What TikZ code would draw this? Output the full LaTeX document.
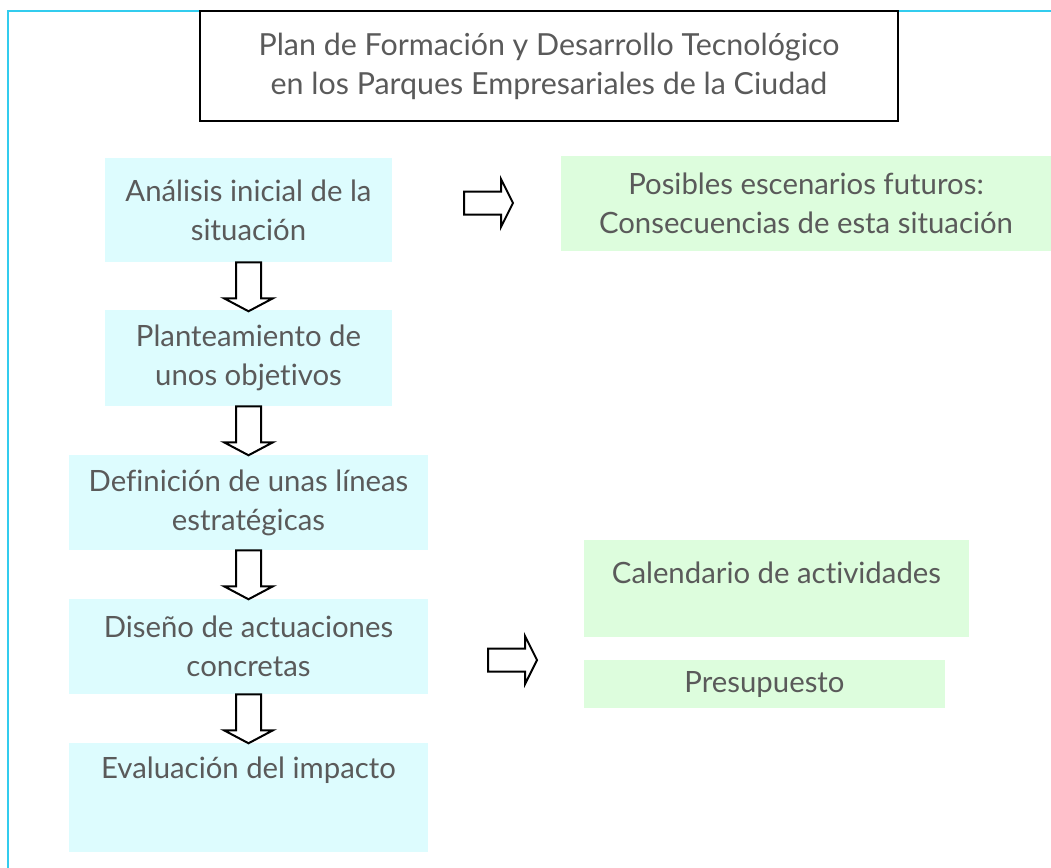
\documentclass[tikz,border=0pt]{standalone}
\usepackage{fontspec}
\setmainfont{Lato}[Ligatures=NoCommon]
\definecolor{txt}{HTML}{5A5A5A}
\definecolor{bluefill}{HTML}{DDFCFE}
\definecolor{greenfill}{HTML}{DDFDDD}
\definecolor{framecol}{HTML}{33CCEE}
\begin{document}
\begin{tikzpicture}[x=0.75pt,y=-0.75pt,
  lbl/.style={text=txt, align=center, inner sep=0pt, font=\fontsize{22}{29.25}\selectfont},
  titlebox/.style={lbl, draw=black, line width=1.5pt, font=\fontsize{22.8}{29.25}\selectfont},
  bluebox/.style={lbl, fill=bluefill, draw=none},
  greenbox/.style={lbl, fill=greenfill, draw=none},
  blockarrow/.style={draw=black, line width=1.5pt, fill=white, line join=miter},
  downarr/.pic={\draw[blockarrow] (-12.5,0) -- (12.5,0) -- (12.5,36) -- (24.5,36) -- (0,49) -- (-24.5,36) -- (-12.5,36) -- cycle;},
  rightarr/.pic={\draw[blockarrow] (0,-11.5) -- (37,-11.5) -- (37,-24) -- (49,0) -- (37,24) -- (37,11.5) -- (0,11.5) -- cycle;}
]
\useasboundingbox (0,0) rectangle (1051,868);
\draw[framecol, line width=1.5pt] (8,868) -- (8,11) -- (1051,11);

\node[titlebox, minimum width=523.5pt, minimum height=82.5pt] (title) at (549,66)
  {Plan de Formación y Desarrollo Tecnológico\\en los Parques Empresariales de la Ciudad};

\node[bluebox, minimum width=215.25pt, minimum height=78pt] (b1) at (248.5,210) {Análisis inicial de la\\situación};
\node[bluebox, minimum width=215.25pt, minimum height=72pt] (b2) at (248.5,358) {Planteamiento de\\unos objetivos};
\node[bluebox, minimum width=269.25pt, minimum height=71.25pt] (b3) at (248.5,502.5) {Definición de unas líneas\\estratégicas};
\node[bluebox, minimum width=269.25pt, minimum height=71.25pt] (b4) at (248.5,646.5) {Diseño de actuaciones\\concretas};
\node[bluebox, minimum width=269.25pt, minimum height=81.75pt] (b5) at (248.5,797.5) {};
\node[lbl] (t5) at (248.5,770) {Evaluación del impacto};

\node[greenbox, minimum width=367.5pt, minimum height=71.25pt] (g1) at (806,203.5) {Posibles escenarios futuros:\\Consecuencias de esta situación};
\node[greenbox, minimum width=288.75pt, minimum height=72.75pt] (g2) at (776.5,588.5) {};
\node[lbl] (t6) at (776.5,573) {Calendario de actividades};
\node[greenbox, minimum width=270.75pt, minimum height=36pt] (g3) at (764.5,684) {Presupuesto};

\pic at (b1.south) {downarr};
\pic at (b2.south) {downarr};
\pic at (b3.south) {downarr};
\pic at (b4.south) {downarr};
\pic at (464,203) {rightarr};
\pic at (488,660) {rightarr};
\end{tikzpicture}
\end{document}
